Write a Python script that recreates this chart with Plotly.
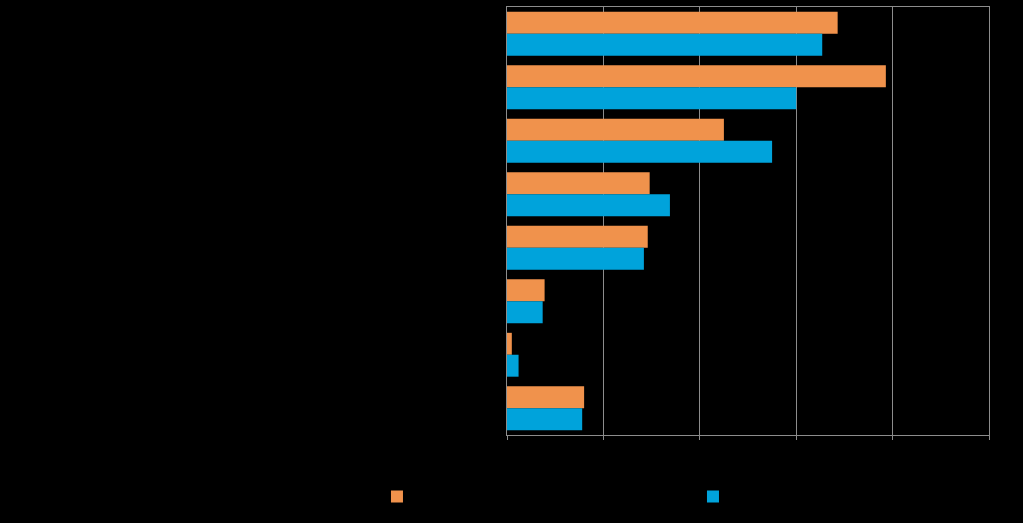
import plotly.graph_objects as go

categories = ["Luokka 1", "Luokka 2", "Luokka 3", "Luokka 4",
              "Luokka 5", "Luokka 6", "Luokka 7", "Luokka 8"]
series_a_name = "Sarja A"
series_b_name = "Sarja B"
series_a = [34.3, 39.3, 22.5, 14.8, 14.6, 3.9, 0.5, 8.0]
series_b = [32.7, 30.0, 27.5, 16.9, 14.2, 3.7, 1.2, 7.8]
tick_vals = [0, 10, 20, 30, 40, 50]
tick_text = ["0 %", "10 %", "20 %", "30 %", "40 %", "50 %"]

ORANGE = "#F0924C"
BLUE = "#00A3DB"
GRID = "#8C8C8C"
TEXT = "#000000"

fig = go.Figure()
fig.add_trace(go.Bar(y=categories, x=series_a, name=series_a_name, orientation="h",
                     marker=dict(color=ORANGE, line=dict(width=0)), legend="legend"))
fig.add_trace(go.Bar(y=categories, x=series_b, name=series_b_name, orientation="h",
                     marker=dict(color=BLUE, line=dict(width=0)), legend="legend2"))

legend_common = dict(orientation="h", xref="container", xanchor="left",
                     y=-0.109, yanchor="top",
                     font=dict(color=TEXT, size=13), bgcolor="rgba(0,0,0,0)")

fig.update_layout(
    width=1023, height=523,
    margin=dict(l=507, r=34, t=7, b=88, autoexpand=False),
    paper_bgcolor="#000000", plot_bgcolor="#000000",
    barmode="group", bargap=0.18, bargroupgap=0,
    font=dict(family="Liberation Sans, Arial", size=13, color=TEXT),
    showlegend=True,
    legend=dict(x=0.3685, **legend_common),
    legend2=dict(x=0.6774, **legend_common),
)
fig.update_xaxes(range=[0, 50], tickvals=tick_vals, ticktext=tick_text,
                 showgrid=True, gridcolor=GRID, gridwidth=1,
                 showline=True, linecolor=GRID, linewidth=1, mirror=True,
                 ticks="outside", ticklen=4, tickcolor=GRID,
                 tickfont=dict(color=TEXT), zeroline=False, fixedrange=True,
                 automargin=False)
fig.update_yaxes(autorange="reversed", showline=True, linecolor=GRID, linewidth=1,
                 mirror=True, ticks="", tickfont=dict(color=TEXT), showgrid=False,
                 fixedrange=True, automargin=False)

fig.write_html("out.html")
